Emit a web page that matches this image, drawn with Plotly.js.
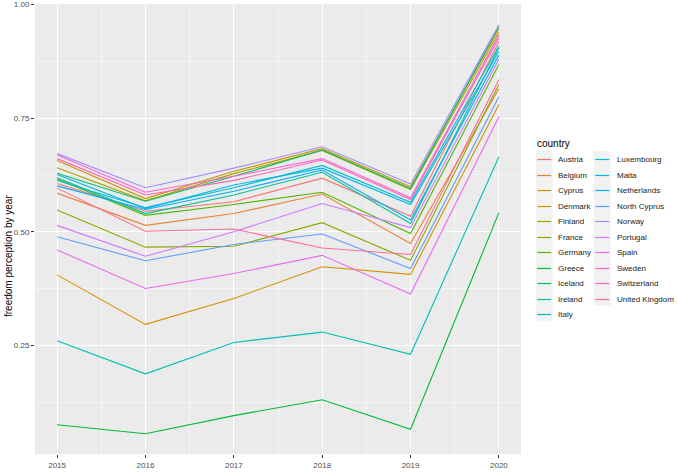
<!DOCTYPE html>
<html>
<head>
<meta charset="utf-8">
<script src="https://cdn.plot.ly/plotly-3.0.1.min.js"></script>
<style>
html,body{margin:0;padding:0;background:#fff;}
#chart{width:678px;height:475px;}
</style>
</head>
<body>
<div id="chart"></div>
<script>
// ---------- data ----------
const years = [2015, 2016, 2017, 2018, 2019, 2020];
const countries = ["Austria","Belgium","Cyprus","Denmark","Finland","France","Germany","Greece",
  "Iceland","Ireland","Italy","Luxembourg","Malta","Netherlands","North Cyprus","Norway",
  "Portugal","Spain","Sweden","Switzerland","United Kingdom"];
const vAustria      = [0.606, 0.545, 0.566, 0.618, 0.534, 0.919];
const vBelgium      = [0.585, 0.514, 0.540, 0.583, 0.474, 0.815];
const vCyprus       = [0.405, 0.296, 0.353, 0.423, 0.406, 0.780];
const vDenmark      = [0.657, 0.573, 0.633, 0.683, 0.599, 0.947];
const vFinland      = [0.641, 0.568, 0.628, 0.679, 0.593, 0.940];
const vFrance       = [0.548, 0.466, 0.468, 0.520, 0.437, 0.824];
const vGermany      = [0.616, 0.536, 0.560, 0.587, 0.496, 0.868];
const vGreece       = [0.075, 0.055, 0.095, 0.130, 0.065, 0.542];
const vIceland      = [0.629, 0.567, 0.622, 0.680, 0.595, 0.952];
const vIreland      = [0.619, 0.540, 0.581, 0.631, 0.518, 0.905];
const vItaly        = [0.260, 0.187, 0.256, 0.279, 0.230, 0.665];
const vLuxembourg   = [0.613, 0.553, 0.597, 0.646, 0.565, 0.909];
const vMalta        = [0.626, 0.551, 0.603, 0.640, 0.560, 0.897];
const vNetherlands  = [0.601, 0.549, 0.589, 0.636, 0.526, 0.889];
const vNorthCyprus  = [0.489, 0.436, 0.472, 0.495, 0.419, 0.797];
const vNorway       = [0.672, 0.597, 0.640, 0.687, 0.605, 0.956];
const vPortugal     = [0.514, 0.446, 0.500, 0.562, 0.509, 0.880];
const vSpain        = [0.460, 0.375, 0.408, 0.448, 0.363, 0.753];
const vSweden       = [0.669, 0.587, 0.622, 0.661, 0.575, 0.933];
const vSwitzerland  = [0.661, 0.581, 0.613, 0.658, 0.571, 0.927];
const vUK           = [0.596, 0.501, 0.506, 0.464, 0.450, 0.835];
const seriesValues = [vAustria, vBelgium, vCyprus, vDenmark, vFinland, vFrance, vGermany, vGreece,
  vIceland, vIreland, vItaly, vLuxembourg, vMalta, vNetherlands, vNorthCyprus, vNorway,
  vPortugal, vSpain, vSweden, vSwitzerland, vUK];
const yTickVals = [0.25, 0.50, 0.75, 1.00];
const yTickText = ["0.25", "0.50", "0.75", "1.00"];
const xTickVals = years;
const xTickText = ["2015", "2016", "2017", "2018", "2019", "2020"];
const legendTitle = "country";
const yTitle = "freedom perception by year";

// ---------- ggplot2 hue palette (hcl) ----------
function hcl2hex(h, c, l) {
  const WX = 95.047, WY = 100.0, WZ = 108.883;
  const hr = h * Math.PI / 180;
  const U = c * Math.cos(hr), V = c * Math.sin(hr);
  const Y = WY * (l > 7.999592 ? Math.pow((l + 16) / 116, 3) : l / 903.3);
  const t = WX + WY + WZ;
  const x = WX / t, y = WY / t;
  const uN = 2 * x / (6 * y - x + 1.5), vN = 4.5 * y / (6 * y - x + 1.5);
  const u = U / (13 * l) + uN, v = V / (13 * l) + vN;
  const X = 9.0 * Y * u / (4 * v);
  const Z = -X / 3 - 5 * Y + 3 * Y / v;
  function g(t) { return t > 0.00304 ? 1.055 * Math.pow(t, 1 / 2.4) - 0.055 : 12.92 * t; }
  const r = g((3.240479 * X - 1.537150 * Y - 0.498535 * Z) / WY);
  const gg = g((-0.969256 * X + 1.875992 * Y + 0.041556 * Z) / WY);
  const b = g((0.055648 * X - 0.204043 * Y + 1.057311 * Z) / WY);
  const toHex = function (q) {
    q = Math.round(255 * Math.max(0, Math.min(1, q)));
    return (q < 16 ? "0" : "") + q.toString(16);
  };
  return "#" + toHex(r) + toHex(gg) + toHex(b);
}
function huePal(n) {
  const out = [];
  for (let i = 0; i < n; i++) out.push(hcl2hex(15 + i * 360 / n, 100, 65));
  return out;
}
const colors = huePal(countries.length);

// ---------- traces ----------
const traces = countries.map(function (name, i) {
  return {
    type: "scatter", mode: "lines", name: name,
    x: years, y: seriesValues[i],
    line: { color: colors[i], width: 1.1 },
    showlegend: false, hoverinfo: "x+y+name"
  };
});

// ---------- layout geometry (pixels) ----------
const W = 678, H = 475;
const M = { l: 35, r: 157, t: 4, b: 21 };
const pw = W - M.l - M.r, ph = H - M.t - M.b;
function px2x(p) { return (p - M.l) / pw; }
function px2y(p) { return (H - M.b - p) / ph; }

// manual ggplot-style legend (two columns, column-major)
const shapes = [];
const annotations = [];
const perCol = Math.ceil(countries.length / 2);
const rowH = 15.47, firstY = 159.3;
const colKeyX = [536, 594], colTextX = [556, 615];
for (let c = 0; c < 2; c++) {
  const nInCol = Math.min(perCol, countries.length - c * perCol);
  shapes.push({
    type: "rect", xref: "paper", yref: "paper", layer: "above",
    x0: px2x(colKeyX[c]), x1: px2x(colKeyX[c] + 16.5),
    y0: px2y(firstY - rowH / 2 - 0.5), y1: px2y(firstY - rowH / 2 - 0.5 + nInCol * rowH),
    fillcolor: "#F2F2F2", line: { width: 0 }, opacity: 1
  });
}
countries.forEach(function (name, i) {
  const c = i < perCol ? 0 : 1;
  const r = c === 0 ? i : i - perCol;
  const cy = Math.round(firstY + r * rowH) + 0.5;
  shapes.push({
    type: "line", xref: "paper", yref: "paper", layer: "above",
    x0: px2x(colKeyX[c] + 1.2), x1: px2x(colKeyX[c] + 15.2),
    y0: px2y(cy), y1: px2y(cy), opacity: 1,
    line: { color: colors[i], width: 1.2 }
  });
  annotations.push({
    xref: "paper", yref: "paper", x: px2x(colTextX[c]), y: px2y(cy),
    xanchor: "left", yanchor: "middle", showarrow: false,
    text: name, font: { family: "Liberation Sans, Arial, sans-serif", size: 8, color: "#1A1A1A" }
  });
});
annotations.push({
  xref: "paper", yref: "paper", x: px2x(535), y: px2y(143),
  xanchor: "left", yanchor: "middle", showarrow: false,
  text: legendTitle, font: { family: "Liberation Sans, Arial, sans-serif", size: 10, color: "#000000" }
});
// y-axis title (placed as in the reference)
annotations.push({
  xref: "paper", yref: "paper", x: px2x(8), y: px2y(256),
  xanchor: "center", yanchor: "middle", showarrow: false, textangle: -90,
  text: yTitle, font: { family: "Liberation Sans, Arial, sans-serif", size: 10, color: "#000000" }
});

const layout = {
  width: W, height: H,
  margin: M,
  paper_bgcolor: "#FFFFFF",
  plot_bgcolor: "#EBEBEB",
  showlegend: false,
  font: { family: "Liberation Sans, Arial, sans-serif", size: 8, color: "#4D4D4D" },
  xaxis: {
    range: [2014.75, 2020.25],
    tickvals: xTickVals, ticktext: xTickText,
    showgrid: true, gridcolor: "#FFFFFF", gridwidth: 1.1,
    zeroline: false, showline: false,
    ticks: "outside", ticklen: 3, tickwidth: 1, tickcolor: "#333333",
    tickfont: { size: 8, color: "#4D4D4D" },
    minor: { dtick: 0.5, tick0: 2014.5, showgrid: true, gridcolor: "#FFFFFF", gridwidth: 0.5, ticks: "" },
    fixedrange: true
  },
  yaxis: {
    range: [0.0105, 1.0015],
    tickvals: yTickVals, ticktext: yTickText,
    showgrid: true, gridcolor: "#FFFFFF", gridwidth: 1.1,
    zeroline: false, showline: false,
    ticks: "outside", ticklen: 3, tickwidth: 1, tickcolor: "#333333",
    tickfont: { size: 8, color: "#4D4D4D" },
    minor: { dtick: 0.125, tick0: 0.125, showgrid: true, gridcolor: "#FFFFFF", gridwidth: 0.5, ticks: "" },
    fixedrange: true
  },
  shapes: shapes,
  annotations: annotations
};

Plotly.newPlot("chart", traces, layout, { displayModeBar: false, staticPlot: true });
</script>
</body>
</html>
